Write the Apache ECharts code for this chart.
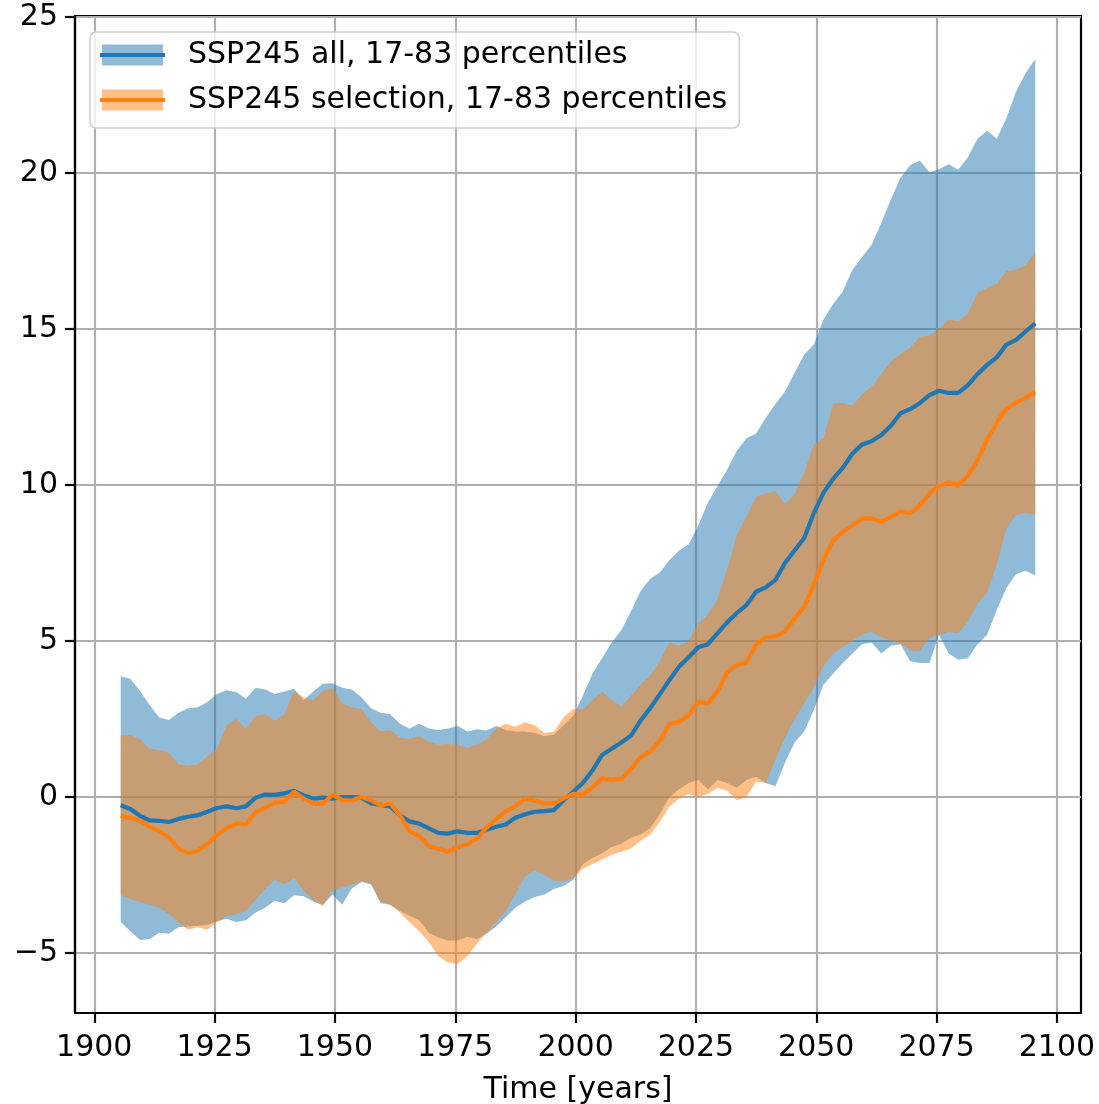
<!DOCTYPE html>
<html>
<head>
<meta charset="utf-8">
<script src="https://cdn.jsdelivr.net/npm/echarts@6/dist/echarts.min.js"></script>
<style>
  html, body { margin: 0; padding: 0; background: #ffffff; }
  #chart { width: 1099px; height: 1104px; }
</style>
</head>
<body>
<div id="chart"></div>
<script>
// Sample years (two-year spacing, mid-year)
const years = [
  1905.5, 1907.5, 1909.5, 1911.5, 1913.5, 1915.5, 1917.5, 1919.5, 1921.5, 1923.5,
  1925.5, 1927.5, 1929.5, 1931.5, 1933.5, 1935.5, 1937.5, 1939.5, 1941.5, 1943.5,
  1945.5, 1947.5, 1949.5, 1951.5, 1953.5, 1955.5, 1957.5, 1959.5, 1961.5, 1963.5,
  1965.5, 1967.5, 1969.5, 1971.5, 1973.5, 1975.5, 1977.5, 1979.5, 1981.5, 1983.5,
  1985.5, 1987.5, 1989.5, 1991.5, 1993.5, 1995.5, 1997.5, 1999.5, 2001.5, 2003.5,
  2005.5, 2007.5, 2009.5, 2011.5, 2013.5, 2015.5, 2017.5, 2019.5, 2021.5, 2023.5,
  2025.5, 2027.5, 2029.5, 2031.5, 2033.5, 2035.5, 2037.5, 2039.5, 2041.5, 2043.5,
  2045.5, 2047.5, 2049.5, 2051.5, 2053.5, 2055.5, 2057.5, 2059.5, 2061.5, 2063.5,
  2065.5, 2067.5, 2069.5, 2071.5, 2073.5, 2075.5, 2077.5, 2079.5, 2081.5, 2083.5,
  2085.5, 2087.5, 2089.5, 2091.5, 2093.5, 2095.5
];

// SSP245 all: median, 17th and 83rd percentiles
const allMed = [
  -0.26, -0.38, -0.60, -0.75, -0.76, -0.80, -0.70, -0.63, -0.58, -0.47,
  -0.35, -0.30, -0.36, -0.30, -0.02, 0.08, 0.07, 0.12, 0.20, 0.05,
  -0.05, -0.02, -0.05, 0.00, 0.00, -0.02, -0.20, -0.25, -0.30, -0.58,
  -0.78, -0.85, -1.00, -1.15, -1.17, -1.10, -1.15, -1.15, -1.05, -0.95,
  -0.88, -0.66, -0.55, -0.47, -0.45, -0.42, -0.10, 0.17, 0.45, 0.85,
  1.35, 1.55, 1.75, 1.97, 2.45, 2.85, 3.30, 3.75, 4.18, 4.48,
  4.80, 4.90, 5.25, 5.60, 5.90, 6.15, 6.58, 6.72, 6.95, 7.50,
  7.90, 8.30, 9.10, 9.75, 10.20, 10.55, 11.00, 11.30, 11.40, 11.60,
  11.90, 12.30, 12.43, 12.62, 12.88, 13.02, 12.95, 12.95, 13.20, 13.55,
  13.85, 14.09, 14.50, 14.65, 14.92, 15.18
];
const allLo = [
  -4.00, -4.30, -4.58, -4.55, -4.35, -4.38, -4.17, -4.15, -4.12, -4.10,
  -3.98, -3.90, -4.00, -3.95, -3.70, -3.55, -3.32, -3.40, -3.15, -3.18,
  -3.35, -3.45, -3.12, -3.45, -2.93, -2.72, -2.80, -3.40, -3.45, -3.65,
  -3.80, -3.95, -4.35, -4.50, -4.60, -4.60, -4.48, -4.55, -4.38, -4.15,
  -3.85, -3.55, -3.35, -3.20, -3.12, -2.95, -2.85, -2.65, -2.15, -1.95,
  -1.80, -1.60, -1.50, -1.30, -1.20, -1.00, -0.55, 0.00, 0.25, 0.45,
  0.55, 0.25, 0.55, 0.45, 0.30, 0.55, 0.65, 0.45, 0.35, 1.10,
  1.75, 2.10, 2.80, 3.60, 3.95, 4.30, 4.60, 4.90, 4.95, 4.60,
  4.85, 4.90, 4.35, 4.30, 4.30, 5.20, 4.60, 4.40, 4.45, 4.90,
  5.20, 6.00, 6.70, 7.15, 7.25, 7.10
];
const allHi = [
  3.87, 3.78, 3.40, 2.95, 2.55, 2.47, 2.70, 2.85, 2.88, 3.05,
  3.30, 3.42, 3.37, 3.15, 3.50, 3.45, 3.30, 3.38, 3.47, 3.10,
  3.38, 3.63, 3.65, 3.50, 3.45, 3.20, 2.85, 2.70, 2.65, 2.35,
  2.20, 2.35, 2.20, 2.15, 2.20, 2.28, 2.10, 2.17, 2.13, 2.28,
  2.15, 2.10, 2.10, 2.05, 1.95, 2.00, 2.30, 2.60, 3.25, 3.95,
  4.45, 4.95, 5.35, 5.95, 6.60, 7.00, 7.20, 7.60, 7.90, 8.10,
  8.70, 9.45, 9.97, 10.50, 11.10, 11.50, 11.65, 12.15, 12.60, 13.00,
  13.60, 14.18, 14.50, 15.30, 15.80, 16.20, 16.90, 17.30, 17.70, 18.40,
  19.15, 19.85, 20.25, 20.40, 20.02, 20.12, 20.28, 20.10, 20.50, 21.10,
  21.35, 21.10, 21.75, 22.60, 23.20, 23.65
];

// SSP245 selection: median, 17th and 83rd percentiles
const selMed = [
  -0.60, -0.68, -0.75, -0.95, -1.09, -1.30, -1.65, -1.79, -1.72, -1.50,
  -1.22, -1.00, -0.85, -0.88, -0.50, -0.35, -0.18, -0.15, 0.17, -0.05,
  -0.20, -0.22, 0.08, -0.10, -0.11, 0.00, -0.10, -0.27, -0.20, -0.58,
  -1.10, -1.25, -1.57, -1.66, -1.76, -1.60, -1.52, -1.33, -0.98, -0.71,
  -0.46, -0.30, -0.05, -0.12, -0.20, -0.20, -0.04, 0.10, 0.08, 0.30,
  0.60, 0.55, 0.58, 0.90, 1.28, 1.45, 1.80, 2.35, 2.40, 2.63,
  3.05, 3.00, 3.38, 4.00, 4.23, 4.30, 4.88, 5.12, 5.15, 5.30,
  5.72, 6.10, 6.80, 7.60, 8.22, 8.50, 8.70, 8.92, 8.93, 8.82,
  8.98, 9.15, 9.10, 9.35, 9.72, 9.97, 10.08, 10.00, 10.30, 10.80,
  11.45, 12.00, 12.45, 12.63, 12.80, 12.97
];
const selLo = [
  -3.15, -3.27, -3.37, -3.45, -3.55, -3.75, -4.00, -4.25, -4.17, -4.25,
  -4.00, -3.82, -3.75, -3.65, -3.30, -2.95, -2.65, -2.80, -2.60, -3.00,
  -3.30, -3.50, -2.98, -2.90, -2.80, -2.70, -2.75, -3.35, -3.45, -3.70,
  -4.00, -4.30, -4.65, -5.10, -5.30, -5.35, -5.10, -4.70, -4.35, -4.02,
  -3.65, -3.10, -2.55, -2.35, -2.50, -2.68, -2.70, -2.60, -2.30, -2.15,
  -2.00, -1.85, -1.75, -1.65, -1.40, -1.20, -0.80, -0.30, -0.05, 0.10,
  0.00, 0.10, 0.30, 0.20, -0.10, 0.00, 0.50, 0.45, 1.20, 1.90,
  2.50, 3.00, 3.50, 4.20, 4.60, 4.80, 5.00, 5.20, 5.30, 5.12,
  5.02, 4.92, 4.70, 4.68, 5.10, 5.20, 5.30, 5.25, 5.60, 6.20,
  6.55, 7.45, 8.60, 9.05, 9.10, 9.05
];
const selHi = [
  1.98, 2.00, 1.85, 1.55, 1.50, 1.42, 1.05, 1.00, 1.05, 1.30,
  1.55, 2.30, 2.50, 2.18, 2.60, 2.65, 2.45, 2.65, 3.40, 3.20,
  3.10, 3.40, 3.50, 3.00, 2.87, 2.82, 2.40, 2.10, 2.15, 1.90,
  1.86, 1.95, 1.78, 1.68, 1.70, 1.68, 1.58, 1.68, 1.85, 2.20,
  2.35, 2.25, 2.40, 2.30, 2.05, 2.10, 2.55, 2.82, 2.80, 3.10,
  3.38, 3.10, 2.90, 3.25, 3.60, 3.90, 4.35, 4.95, 4.85, 5.00,
  5.55, 5.85, 6.35, 7.30, 8.40, 9.00, 9.62, 9.72, 9.80, 9.40,
  9.70, 10.40, 11.30, 11.50, 12.60, 12.63, 12.55, 12.90, 13.15, 13.55,
  13.95, 14.20, 14.40, 14.75, 14.78, 15.00, 15.30, 15.25, 15.50, 16.15,
  16.32, 16.45, 16.85, 16.90, 17.05, 17.45
];

// Tick positions
const xTicks = [1900, 1925, 1950, 1975, 2000, 2025, 2050, 2075, 2100];
const yTicks = [-5, 0, 5, 10, 15, 20, 25];

const nameAll = 'SSP245 all, 17-83 percentiles';
const nameSel = 'SSP245 selection, 17-83 percentiles';

const BLUE = '#1f77b4';
const ORANGE = '#ff7f0e';
const FONT = 'DejaVu Sans';
const FS = 30;

const pairs = (ys) => years.map((x, i) => [x, ys[i]]);

// Percentile band: one filled polygon (upper edge forward, lower edge back)
function bandSeries(name, lo, hi, color) {
  return {
    type: 'custom', name: name, silent: true,
    data: years.map((x, i) => [x, lo[i], hi[i]]),
    encode: { x: 0, y: [1, 2] },
    renderItem: function (params, api) {
      if (params.dataIndexInside !== 0) return null;
      const n = params.dataInsideLength;
      const upper = [], lower = [];
      for (let j = 0; j < n; j++) {
        const x = api.value(0, j);
        upper.push(api.coord([x, api.value(2, j)]));
        lower.push(api.coord([x, api.value(1, j)]));
      }
      return {
        type: 'polygon',
        shape: { points: upper.concat(lower.reverse()) },
        style: { fill: color, opacity: 0.5 }
      };
    }
  };
}
function medianSeries(name, ys, color) {
  return {
    type: 'line', name: name, data: pairs(ys), symbol: 'none', showSymbol: false,
    lineStyle: { color: color, width: 4.2 }, itemStyle: { color: color }, silent: true
  };
}

const legendCommon = {
  orient: 'vertical', top: 32, itemGap: 15, selectedMode: false
};

const option = {
  animation: false,
  backgroundColor: '#ffffff',
  grid: {
    left: 75, right: 18, top: 16, bottom: 91,
    outerBoundsMode: 'none', containLabel: false,
    show: true, borderColor: '#000', borderWidth: 2.2, backgroundColor: 'transparent'
  },
  legend: [
    Object.assign({}, legendCommon, {
      left: 90,
      padding: [8, 12, 13, 12],
      backgroundColor: 'rgba(255,255,255,0.8)',
      borderColor: '#cccccc', borderWidth: 1.5, borderRadius: 6,
      itemWidth: 61, itemHeight: 21,
      textStyle: { fontFamily: FONT, fontSize: FS, color: '#000', padding: [0, 0, 0, 20] },
      data: [
        { name: nameAll, icon: 'rect', itemStyle: { color: '#8fbbd9', borderWidth: 0 } },
        { name: nameSel, icon: 'rect', itemStyle: { color: '#ffbf86', borderWidth: 0 } }
      ]
    }),
    Object.assign({}, legendCommon, {
      left: 88,
      padding: [8, 12, 13, 12],
      itemWidth: 65, itemHeight: 4,
      textStyle: { fontFamily: FONT, fontSize: FS, color: 'rgba(0,0,0,0)', padding: [0, 0, 0, 18] },
      data: [
        { name: nameAll, icon: 'rect', itemStyle: { color: BLUE, borderWidth: 0 } },
        { name: nameSel, icon: 'rect', itemStyle: { color: ORANGE, borderWidth: 0 } }
      ]
    })
  ],
  xAxis: {
    type: 'value', min: 1896, max: 2105,
    name: 'Time [years]', nameLocation: 'middle', nameGap: 62,
    nameTextStyle: { fontFamily: FONT, fontSize: FS, color: '#000' },
    axisLine: { show: true, onZero: false, lineStyle: { color: '#000', width: 2.2 } },
    axisTick: { show: true, length: 10, lineStyle: { color: '#000', width: 2.2 }, customValues: xTicks },
    axisLabel: {
      fontFamily: FONT, fontSize: FS, color: '#000', margin: 20, customValues: xTicks,
      formatter: (v) => String(v)
    },
    splitLine: { show: true, lineStyle: { color: '#b0b0b0', width: 2.2 } }
  },
  yAxis: {
    type: 'value', min: -6.92, max: 25.03,
    axisLine: { show: true, onZero: false, lineStyle: { color: '#000', width: 2.2 } },
    axisTick: { show: true, length: 10, lineStyle: { color: '#000', width: 2.2 }, customValues: yTicks },
    axisLabel: {
      fontFamily: FONT, fontSize: FS, color: '#000', margin: 17, customValues: yTicks,
      formatter: (v) => (v < 0 ? '\u2212' + Math.abs(v) : String(v))
    },
    splitLine: { show: true, lineStyle: { color: '#b0b0b0', width: 2.2 } }
  },
  series: [
    bandSeries(nameAll, allLo, allHi, BLUE),
    bandSeries(nameSel, selLo, selHi, ORANGE),
    medianSeries(nameAll, allMed, BLUE),
    medianSeries(nameSel, selMed, ORANGE)
  ]
};

const chart = echarts.init(document.getElementById('chart'), null, { renderer: 'canvas' });
chart.setOption(option);
</script>
</body>
</html>
